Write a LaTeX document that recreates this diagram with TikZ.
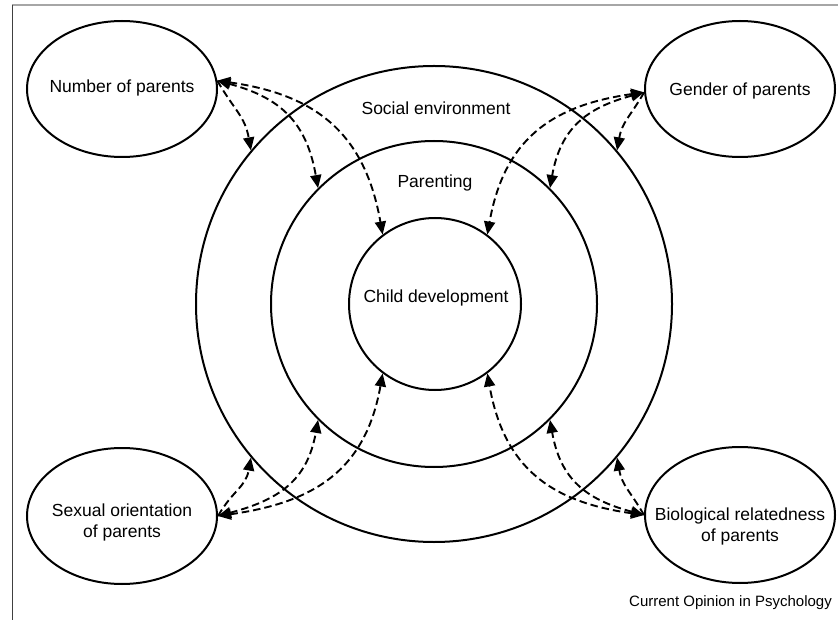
\documentclass[tikz,border=0pt]{standalone}
\usepackage{fontspec}
\setmainfont{Liberation Sans}
\usetikzlibrary{shapes.geometric,arrows.meta}
\begin{document}
\begin{tikzpicture}[x=1pt,y=1pt,
  ring/.style={circle,draw,line width=2pt,inner sep=0pt},
  factor/.style={ellipse,draw,line width=2pt,minimum width=190pt,minimum height=136pt,inner sep=0pt},
  lbl/.style={font=\fontsize{17.5}{21}\selectfont,align=center,inner sep=0pt},
  link/.style={dash pattern=on 7.5pt off 4pt,line width=1.9pt,looseness=1.15},
  >={Triangle[length=13pt,width=11pt]}]
\useasboundingbox (0,0) rectangle (838,-620);
% frame
\draw[black!35,line width=2pt] (12,-5) -- (838,-5);
\draw[black!75,line width=0.9pt] (12,-5) -- (12,-620);
% rings
\node[ring,minimum size=476pt] (outer) at (434,-304) {};
\node[ring,minimum size=326pt] (middle) at (434,-304) {};
\node[ring,minimum size=172pt] (inner) at (435,-304) {};
\node[lbl] (se) at (436,-108) {Social environment};
\node[lbl] (par) at (435,-183) {Parenting};
\node[lbl] (cd) at (436,-298) {Child development};
% factors
\node[factor] (np) at (122,-89) {};
\node[factor] (gp) at (740,-89) {};
\node[factor] (so) at (122,-516) {};
\node[factor] (br) at (740,-515) {};
\node[lbl] (npt) at (122,-88) {Number of parents};
\node[lbl] (gpt) at (740,-91) {Gender of parents};
\node[lbl] (sot) at (122,-522) {Sexual orientation\\of parents};
\node[lbl] (brt) at (740,-526) {Biological relatedness\\of parents};
\node[lbl,font=\fontsize{15}{18}\selectfont,anchor=east] (src) at (832,-603) {Current Opinion in Psychology};
% links: number of parents
\draw[link,<->] (np.5) to[out=-8,in=100] (inner.127);
\draw[link,<->] (np.5) to[out=-15,in=100] (middle.135);
\draw[link,->] (np.5) to[out=-60,in=100] (outer.140);
% gender
\draw[link,<->] (gp.182) to[out=188,in=80] (inner.53);
\draw[link,<->] (gp.182) to[out=195,in=80] (middle.45);
\draw[link,->] (gp.182) to[out=240,in=80] (outer.40);
% sexual orientation
\draw[link,<->] (so.0) to[out=8,in=-100] (inner.233);
\draw[link,<->] (so.0) to[out=15,in=-100] (middle.225);
\draw[link,->] (so.0) to[out=60,in=-100] (outer.220);
% biological relatedness
\draw[link,<->] (br.180) to[out=172,in=-80] (inner.-53);
\draw[link,<->] (br.180) to[out=165,in=-80] (middle.-45);
\draw[link,->] (br.180) to[out=120,in=-80] (outer.-40);
\end{tikzpicture}
\end{document}
